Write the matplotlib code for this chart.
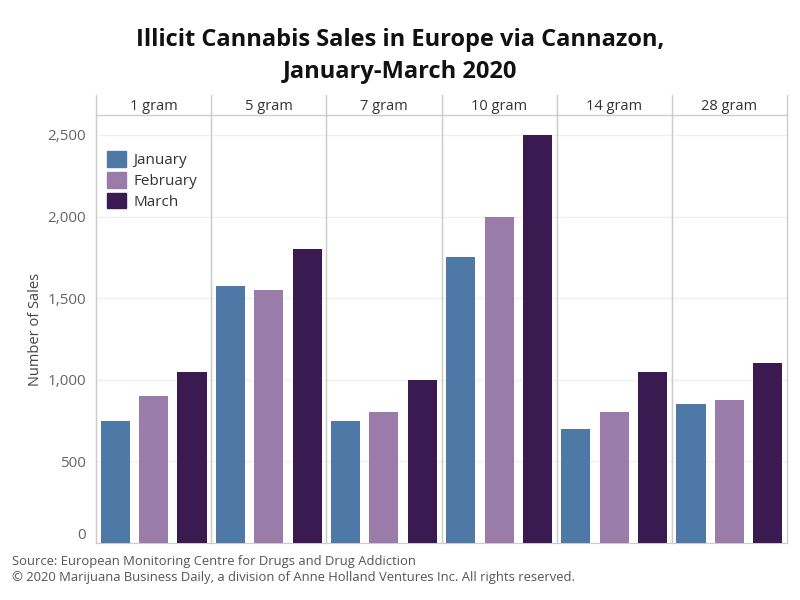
import matplotlib
matplotlib.use("Agg")
import matplotlib.pyplot as plt
from matplotlib.lines import Line2D
from matplotlib.patches import Patch

sizes = ["1 gram", "5 gram", "7 gram", "10 gram", "14 gram", "28 gram"]
months = ["January", "February", "March"]
january = [750, 1575, 750, 1750, 700, 850]
february = [900, 1550, 800, 2000, 800, 875]
march = [1050, 1800, 1000, 2500, 1050, 1100]
colors = ["#4e79a7", "#9a7baa", "#3b1a52"]
yticks = [0, 500, 1000, 1500, 2000, 2500]

plt.rcParams['font.family'] = ['Open Sans', 'DejaVu Sans']

W, H = 800, 600
fig = plt.figure(figsize=(8, 6), dpi=100)
left, right, bottom, top, head = 96, 787, 543, 115, 95
grid_c = "#cccccc"
series = [january, february, march]
n = len(sizes)
pw = (right - left) / n
axes = []
for i, s in enumerate(sizes):
    x0 = left + i * pw
    ax = fig.add_axes([x0 / W, 1 - bottom / H, pw / W, (bottom - top) / H])
    for j, vals in enumerate(series):
        ax.bar(j, vals[i], width=0.757, color=colors[j], zorder=3, label=months[j])
    ax.set_xlim(-0.5, 2.5)
    ax.set_ylim(0, 2622)
    ax.set_yticks(yticks)
    ax.grid(axis='y', color="#f0f0f0", linewidth=1, zorder=0)
    ax.set_xticks([])
    for sp in ["top", "right"]:
        ax.spines[sp].set_visible(False)
    ax.spines["left"].set_color(grid_c)
    ax.spines["bottom"].set_color(grid_c)
    ax.tick_params(axis='y', length=0, labelsize=11, labelcolor="#666666", pad=7)
    if i > 0:
        ax.tick_params(axis='y', labelleft=False)
    else:
        ax.set_yticklabels([f"{v:,}" for v in yticks])
        ax.get_yticklabels()[0].set_va('bottom')
        ax.set_ylabel("Number of Sales", fontsize=10.5, color="#444444", labelpad=3)
    fig.text((x0 + pw / 2) / W, 1 - 106 / H, s, ha='center', va='center',
             fontsize=10.5, color="#333333")
    axes.append(ax)

# header and border lines
for i in range(n + 1):
    x = (left + i * pw) / W
    fig.add_artist(Line2D([x, x], [1 - bottom / H, 1 - head / H], color=grid_c, lw=1))
fig.add_artist(Line2D([left / W, right / W], [1 - top / H, 1 - top / H], color=grid_c, lw=1))

handles = [Patch(color=c, label=m) for c, m in zip(colors, months)]
axes[0].legend(handles=handles, loc='upper left', bbox_to_anchor=(0.045, 0.93),
               frameon=False, fontsize=11, handlelength=1.2, handleheight=1.2,
               handletextpad=0.5, labelspacing=0.25, borderaxespad=0,
               labelcolor="#333333")

fig.text(0.5, 1 - 40 / H, "Illicit Cannabis Sales in Europe via Cannazon,", ha='center',
         va='center', fontsize=17, fontweight='bold', color="#111111")
fig.text(0.5, 1 - 72 / H, "January-March 2020", ha='center',
         va='center', fontsize=17, fontweight='bold', color="#111111")

fig.text(12 / W, 1 - 561 / H, "Source: European Monitoring Centre for Drugs and Drug Addiction",
         ha='left', va='center', fontsize=9.4, color="#555555")
fig.text(12 / W, 1 - 578 / H,
         "© 2020 Marijuana Business Daily, a division of Anne Holland Ventures Inc. All rights reserved.",
         ha='left', va='center', fontsize=9.4, color="#555555")

fig.savefig("out.png", dpi=100)
